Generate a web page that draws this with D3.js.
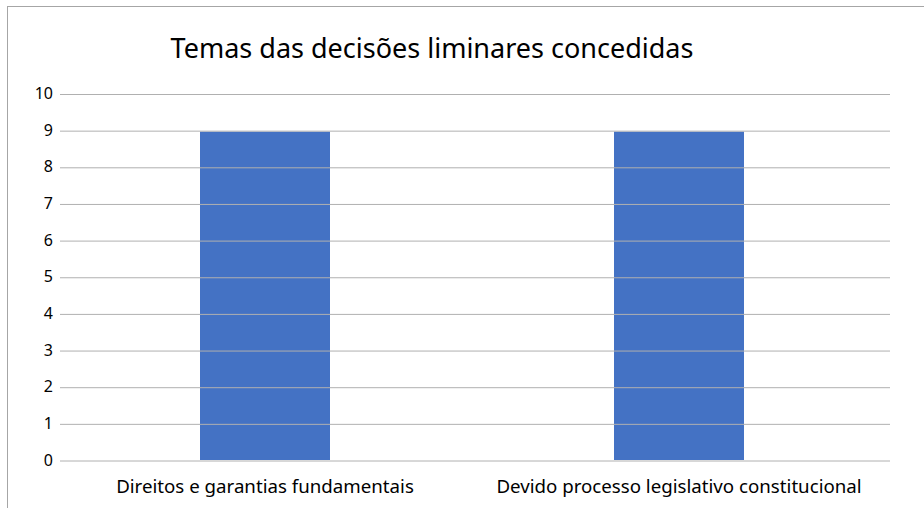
<!DOCTYPE html>
<html>
<head>
<meta charset="utf-8">
<script src="https://cdn.jsdelivr.net/npm/d3@7"></script>
<style>
  body { margin: 0; background: #fff; }
  text { font-family: "Noto Sans", "Open Sans", sans-serif; fill: #000; }
</style>
</head>
<body>
<svg id="chart" width="924" height="508"></svg>
<script>
// Chart data
var categories = ["Direitos e garantias fundamentais", "Devido processo legislativo constitucional"];
var values = [9, 9];
var yTicks = [0, 1, 2, 3, 4, 5, 6, 7, 8, 9, 10];
var title = "Temas das decisões liminares concedidas";

var svg = d3.select("#chart");
var width = 924, height = 508;

// chart frame (clipped at right and bottom)
svg.append("rect")
  .attr("x", 7.5).attr("y", 6.5)
  .attr("width", 930).attr("height", 520)
  .attr("fill", "#fff")
  .attr("stroke", "#a6a6a6");

var plot = { left: 58, right: 886, top: 93.5, bottom: 460 };

var x = d3.scaleBand()
  .domain(categories)
  .range([plot.left, plot.right])
  .paddingInner(0.686)
  .paddingOuter(0.343);

var y = d3.scaleLinear()
  .domain([0, 10])
  .range([plot.bottom, plot.top]);

// bars
svg.selectAll("rect.bar")
  .data(values)
  .enter()
  .append("rect")
  .attr("class", "bar")
  .attr("x", function(d, i) { return x(categories[i]); })
  .attr("y", function(d) { return y(d) + 1.5; })
  .attr("width", x.bandwidth())
  .attr("height", function(d) { return plot.bottom - y(d) - 1.5; })
  .attr("fill", "#4472c4");

// gridlines + y labels
var yAxis = d3.axisLeft(y)
  .tickValues(yTicks)
  .tickSize(-(890 - 60))
  .tickPadding(8)
  .tickFormat(d3.format("d"));

var yg = svg.append("g")
  .attr("transform", "translate(60,0)")
  .call(yAxis);
yg.select(".domain").remove();
yg.selectAll(".tick line")
  .attr("stroke", "#b0b0b0")
  .attr("stroke-width", 1)
  .attr("transform", "translate(0,0.5)");
yg.selectAll(".tick text")
  .attr("x", -7)
  .style("font-size", "16px")
  .style("font-family", "'Noto Sans', sans-serif")
  .attr("fill", "#000");

// category labels
var xAxis = d3.axisBottom(x).tickSize(0).tickPadding(0);
var xg = svg.append("g")
  .attr("transform", "translate(0," + plot.bottom + ")")
  .call(xAxis);
xg.select(".domain").remove();
xg.selectAll(".tick text")
  .attr("y", 0)
  .attr("dy", "33px")
  .style("font-size", "18.7px")
  .style("font-family", "'Noto Sans', sans-serif")
  .attr("fill", "#000");

// title
svg.append("text")
  .attr("x", 432)
  .attr("y", 58)
  .attr("text-anchor", "middle")
  .style("font-size", "27px")
  .text(title);
</script>
</body>
</html>
